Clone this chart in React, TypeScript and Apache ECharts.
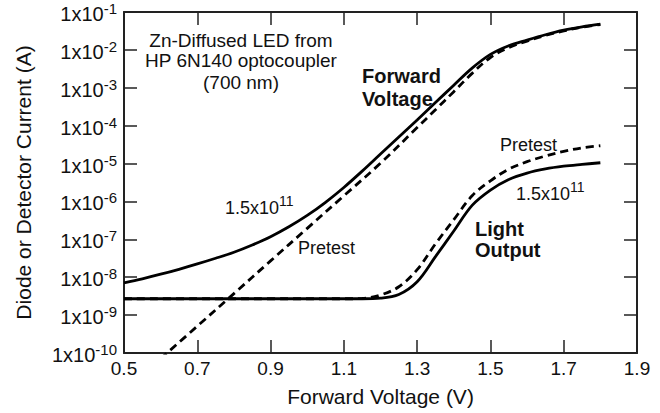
import React, { useEffect, useRef } from "react";
import * as echarts from "echarts";

const FONT = '"Liberation Sans", Arial, Helvetica, sans-serif';
const INK = "#111";

// X axis ticks (V)
const xMin = 0.5;
const xMax = 1.9;
const xStep = 0.2;
// Y axis decades (A)
const yMin = 1e-10;
const yMax = 1e-1;

// Forward voltage curve after 1.5x10^11 exposure (solid)
const fwdStressV = [0.5, 0.55, 0.6, 0.65, 0.7, 0.75, 0.8, 0.85, 0.9, 0.95, 1.0, 1.05, 1.1, 1.15, 1.2, 1.25, 1.3, 1.35, 1.4, 1.45, 1.5, 1.55, 1.6, 1.65, 1.7, 1.75, 1.8];
const fwdStressI = [7.1e-9, 9.1e-9, 1.2e-8, 1.62e-8, 2.24e-8, 3.16e-8, 4.57e-8, 7.1e-8, 1.17e-7, 2.14e-7, 4.27e-7, 9.5e-7, 2.34e-6, 6.3e-6, 1.78e-5, 5.0e-5, 1.41e-4, 4.07e-4, 1.17e-3, 3.3e-3, 7.6e-3, 1.29e-2, 1.82e-2, 2.51e-2, 3.31e-2, 4.07e-2, 4.79e-2];

// Forward voltage curve, pretest (dashed)
const fwdPreV = [0.6, 0.7, 0.8, 0.9, 1.0, 1.1, 1.2, 1.3, 1.35, 1.4, 1.45, 1.5, 1.55, 1.6, 1.65, 1.7, 1.75, 1.8];
const fwdPreI = [7.1e-11, 5.1e-10, 3.7e-9, 2.7e-8, 1.95e-7, 1.41e-6, 1.02e-5, 8.9e-5, 2.63e-4, 7.9e-4, 2.4e-3, 6.3e-3, 1.15e-2, 1.7e-2, 2.4e-2, 3.16e-2, 3.98e-2, 4.68e-2];

// Light output (detector current)
const lightV = [0.5, 0.7, 0.9, 1.1, 1.15, 1.2, 1.25, 1.3, 1.35, 1.4, 1.45, 1.5, 1.55, 1.6, 1.65, 1.7, 1.75, 1.8];
const lightStressI = [2.7e-9, 2.7e-9, 2.7e-9, 2.7e-9, 2.7e-9, 2.8e-9, 3.5e-9, 7.6e-9, 3.5e-8, 1.66e-7, 7.9e-7, 2.0e-6, 3.8e-6, 5.6e-6, 7.2e-6, 8.5e-6, 9.5e-6, 1.05e-5];
const lightPreI = [2.7e-9, 2.7e-9, 2.7e-9, 2.7e-9, 2.75e-9, 3.4e-9, 5.6e-9, 1.58e-8, 7.6e-8, 3.3e-7, 1.41e-6, 3.5e-6, 7.1e-6, 1.12e-5, 1.58e-5, 2.1e-5, 2.6e-5, 2.95e-5];

const pairs = (xs: number[], ys: number[]) => xs.map((x, i) => [x, ys[i]]);

const axisLine = { show: true, onZero: false, lineStyle: { color: "#222", width: 2 } };
const axisTick = { show: true, inside: true, length: 13, lineStyle: { color: "#222", width: 1.5 } };

const supRich = (mainSize: number, supSize: number, padMain: number, padSup: number) => ({
  m: { fontSize: mainSize, fontFamily: FONT, color: INK, verticalAlign: "middle", padding: [padMain, 0, 0, 0] },
  s: { fontSize: supSize, fontFamily: FONT, color: INK, verticalAlign: "middle", padding: [0, 0, padSup, 0] },
});

const lineSeries = (name: string, data: number[][], dashed: boolean) => ({
  name,
  type: "line",
  data,
  smooth: 0.35,
  showSymbol: false,
  symbol: "none",
  clip: true,
  lineStyle: { color: "#000", width: 2.8, type: dashed ? [8, 5] : "solid" },
  z: dashed ? 2 : 3,
});

const txt = (text: string, x: number, y: number, opts: any = {}) => ({
  type: "text",
  x,
  y,
  silent: true,
  style: {
    text,
    fill: INK,
    font: `${opts.bold ? "bold " : ""}${opts.size || 18}px ${FONT}`,
    align: opts.align || "left",
    verticalAlign: "middle",
    rich: opts.rich,
  },
});

export default function App() {
  const ref = useRef<HTMLDivElement>(null);
  useEffect(() => {
    const chart = echarts.init(ref.current!, null, { renderer: "svg" });
    const option: any = {
      animation: false,
      backgroundColor: "#fff",
      grid: { left: 124, right: 23, top: 12, bottom: 60, containLabel: false },
      xAxis: [
        {
          type: "value",
          position: "bottom",
          min: xMin,
          max: xMax,
          interval: xStep,
          axisLine,
          axisTick,
          splitLine: { show: false },
          axisLabel: {
            margin: 6,
            fontSize: 19,
            fontFamily: FONT,
            color: INK,
            formatter: (v: number) => v.toFixed(1),
          },
          name: "Forward Voltage (V)",
          nameLocation: "middle",
          nameGap: 33,
          nameTextStyle: { fontSize: 21, fontFamily: FONT, color: INK },
        },
        {
          type: "value",
          position: "top",
          min: xMin,
          max: xMax,
          interval: xStep,
          axisLine,
          axisTick,
          splitLine: { show: false },
          axisLabel: { show: false },
        },
      ],
      yAxis: [
        {
          type: "log",
          logBase: 10,
          position: "left",
          min: yMin,
          max: yMax,
          splitNumber: 9,
          axisLine,
          axisTick,
          minorTick: { show: false },
          splitLine: { show: false },
          axisLabel: {
            margin: 7,
            formatter: (v: number) => `{m|1x10}{s|${Math.round(Math.log10(v))}}`,
            rich: supRich(20, 15, 4, 7),
          },
          name: "Diode or Detector Current (A)",
          nameLocation: "middle",
          nameGap: 90,
          nameRotate: 90,
          nameTextStyle: { fontSize: 21, fontFamily: FONT, color: INK },
        },
        {
          type: "log",
          logBase: 10,
          position: "right",
          min: yMin,
          max: yMax,
          splitNumber: 9,
          axisLine,
          axisTick,
          minorTick: { show: false },
          splitLine: { show: false },
          axisLabel: { show: false },
        },
      ],
      series: [
        lineSeries("Forward pretest", pairs(fwdPreV, fwdPreI), true),
        lineSeries("Forward 1.5x10^11", pairs(fwdStressV, fwdStressI), false),
        lineSeries("Light pretest", pairs(lightV, lightPreI), true),
        lineSeries("Light 1.5x10^11", pairs(lightV, lightStressI), false),
      ],
      graphic: [
        txt("Zn-Diffused LED from", 241, 40, { align: "center", size: 19 }),
        txt("HP 6N140 optocoupler", 241, 60, { align: "center", size: 19 }),
        txt("(700 nm)", 241, 82, { align: "center", size: 19 }),
        txt("Forward", 362, 76, { bold: true, size: 20 }),
        txt("Voltage", 362, 99, { bold: true, size: 20 }),
        txt("Light", 475, 229, { bold: true, size: 20 }),
        txt("Output", 475, 250, { bold: true, size: 20 }),
        txt("Pretest", 500, 145),
        txt("Pretest", 298, 248),
        txt("{m|1.5x10}{s|11}", 516, 194, { rich: supRich(18, 14, 0, 14) }),
        txt("{m|1.5x10}{s|11}", 225, 208, { rich: supRich(18, 14, 0, 14) }),
      ],
    };
    chart.setOption(option);
    return () => chart.dispose();
  }, []);
  return (
    <div
      ref={ref}
      style={{ position: "fixed", left: 0, top: 0, width: 660, height: 413, background: "#fff" }}
    />
  );
}
